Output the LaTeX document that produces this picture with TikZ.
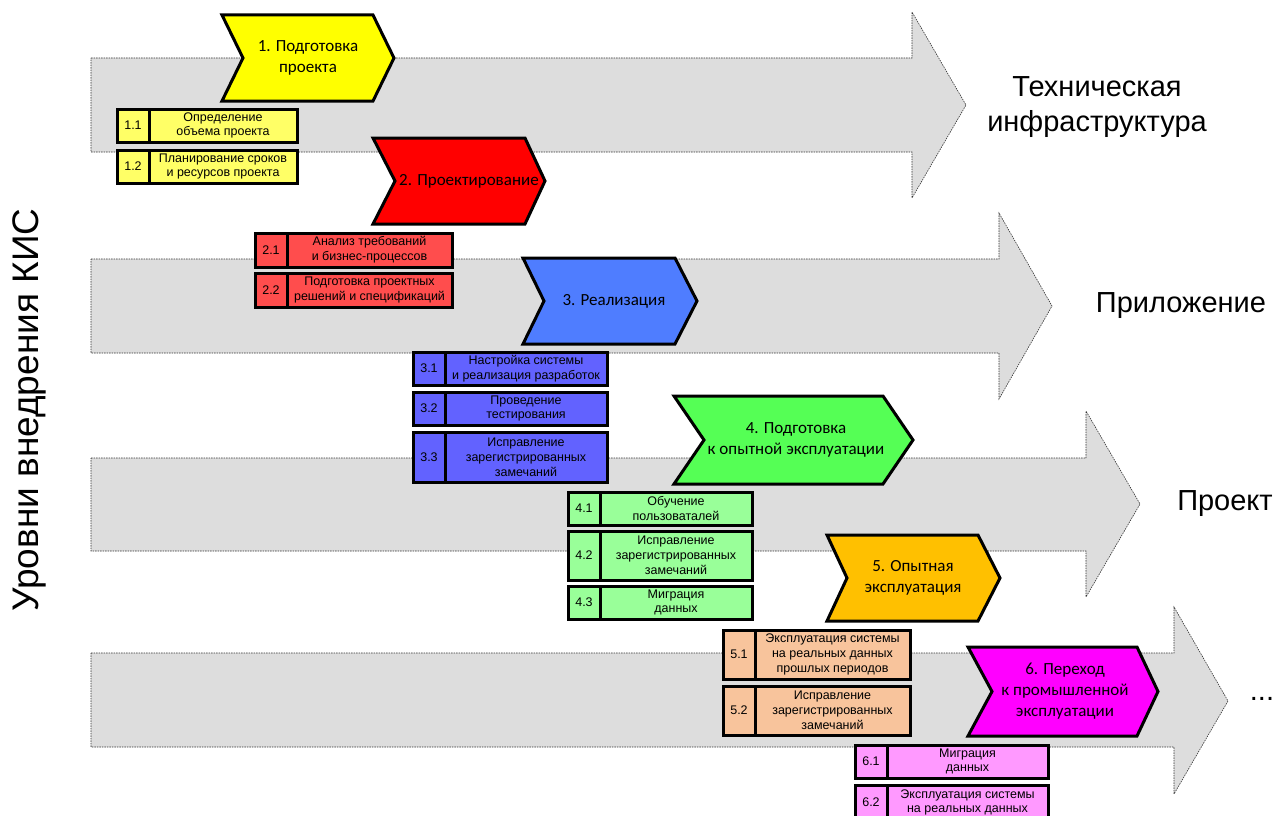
\documentclass[tikz,border=0pt]{standalone}
\usepackage{fontspec}
\setmainfont{Liberation Sans}
\newfontfamily\calib{Carlito}
\definecolor{gbg}{HTML}{DDDDDD}
\definecolor{yel}{HTML}{FFFF00}
\definecolor{yell}{HTML}{FFFF66}
\definecolor{redc}{HTML}{FF0000}
\definecolor{redl}{HTML}{FF4D4D}
\definecolor{bluc}{HTML}{4F7DFF}
\definecolor{blul}{HTML}{6262FF}
\definecolor{grnc}{HTML}{55FF55}
\definecolor{grnl}{HTML}{99FF99}
\definecolor{orac}{HTML}{FFC000}
\definecolor{oral}{HTML}{F8C49C}
\definecolor{magc}{HTML}{FF00FF}
\definecolor{magl}{HTML}{FF99FF}
% chevron: name, L, T, R, tip, B, notch, fill, text x
\newcommand\chevshape[9]{%
  \draw[chev, fill=#8] (#2,#3) -- (#4,#3) -- (#5,{(#3+#6)/2}) -- (#4,#6) -- (#2,#6) -- (#7,{(#3+#6)/2}) -- cycle;
  \node[ctext] (#1) at (#9,{(#3+#6)/2}) {\chevtext};}
% task box: name, L, T, R, B, fill, number, text
\newcommand\taskbox[8]{%
  \draw[tbox, fill=#6] (#2,#3) rectangle (#4,#5);
  \draw[tbox] ({#2+32},#3) -- ({#2+32},#5);
  \node[ttext] (#1n) at ({#2+16},{(#3+#5)/2}) {#7};
  \node[ttext] (#1t) at ({(#2+32+#4)/2},{(#3+#5)/2}) {#8};}
\begin{document}
\begin{tikzpicture}[x=1pt,y=-1pt,
  garrow/.style={fill=gbg, draw=black!80, line width=0.6pt, dash pattern=on 1.5pt off 1pt},
  chev/.style={line width=3pt, draw=black, line join=miter},
  ctext/.style={font=\calib\fontsize{17}{21}\selectfont, align=center, inner sep=0pt},
  tbox/.style={line width=3pt, draw=black},
  ttext/.style={font=\fontsize{12.5}{14.8}\selectfont, align=center, inner sep=0pt},
  lab/.style={font=\fontsize{29}{35}\selectfont, align=center, inner sep=0pt}]
\useasboundingbox (0,0) rectangle (1277,816);
\clip (0,0) rectangle (1277,816);
\fill[white] (0,0) rectangle (1277,816);

% big level arrows
\draw[garrow] (91,58) -- (912,58) -- (912,12) -- (966,105) -- (912,198) -- (912,152) -- (91,152) -- cycle;
\draw[garrow] (91,259) -- (999,259) -- (999,213) -- (1052,306) -- (999,399) -- (999,353) -- (91,353) -- cycle;
\draw[garrow] (91,458) -- (1086,458) -- (1086,411) -- (1140,504) -- (1086,597) -- (1086,551) -- (91,551) -- cycle;
\draw[garrow] (91,653) -- (1174,653) -- (1174,607) -- (1228,701) -- (1174,794) -- (1174,747) -- (91,747) -- cycle;

% level labels
\node[lab] (l1) at (1097,107) {Техническая\\инфраструктура};
\node[lab] (l2) at (1181,306) {Приложение};
\node[lab] (l3) at (1225,504) {Проект};
\node[lab] (l4) at (1262,699) {...};
\node[font=\fontsize{37}{40}\selectfont, rotate=90, inner sep=0pt] (ylab) at (29,410) {Уровни внедрения КИС};

% chevrons
\def\chevtext{1. Подготовка\\проекта}
\chevshape{c1}{222}{15}{373}{394}{101}{243}{yel}{308}
\def\chevtext{2. Проектирование}
\chevshape{c2}{373}{138}{525}{545}{224}{395}{redc}{469}
\def\chevtext{3. Реализация}
\chevshape{c3}{523}{258}{675}{697}{344}{544}{bluc}{614}
\def\chevtext{4. Подготовка\\к опытной эксплуатации}
\chevshape{c4}{674}{396}{883}{913}{484}{704}{grnc}{796}
\def\chevtext{5. Опытная\\эксплуатация}
\chevshape{c5}{827}{535}{978}{1000}{621}{847}{orac}{913}
\def\chevtext{6. Переход\\к промышленной\\эксплуатации}
\chevshape{c6}{968}{647}{1137}{1158}{736}{992}{magc}{1065}

% task boxes
\taskbox{t11}{117}{109}{297}{142}{yell}{1.1}{Определение\\объема проекта}
\taskbox{t12}{117}{150}{297}{183}{yell}{1.2}{Планирование сроков\\и ресурсов проекта}
\taskbox{t21}{255}{233}{452}{267}{redl}{2.1}{Анализ требований\\и бизнес-процессов}
\taskbox{t22}{255}{273}{452}{307}{redl}{2.2}{Подготовка проектных\\решений и спецификаций}
\taskbox{t31}{413}{352}{607}{385}{blul}{3.1}{Настройка системы\\и реализация разработок}
\taskbox{t32}{413}{392}{607}{425}{blul}{3.2}{Проведение\\тестирования}
\taskbox{t33}{413}{432}{607}{482}{blul}{3.3}{Исправление\\зарегистрированных\\замечаний}
\taskbox{t41}{568}{492}{752}{525}{grnl}{4.1}{Обучение\\пользоваталей}
\taskbox{t42}{568}{531}{752}{580}{grnl}{4.2}{Исправление\\зарегистрированных\\замечаний}
\taskbox{t43}{568}{586}{752}{619}{grnl}{4.3}{Миграция\\данных}
\taskbox{t51}{723}{630}{910}{679}{oral}{5.1}{Эксплуатация системы\\на реальных данных\\прошлых периодов}
\taskbox{t52}{723}{686}{910}{735}{oral}{5.2}{Исправление\\зарегистрированных\\замечаний}
\taskbox{t61}{855}{745}{1048}{778}{magl}{6.1}{Миграция\\данных}
\taskbox{t62}{855}{785}{1048}{820}{magl}{6.2}{Эксплуатация системы\\на реальных данных}
\end{tikzpicture}
\end{document}
